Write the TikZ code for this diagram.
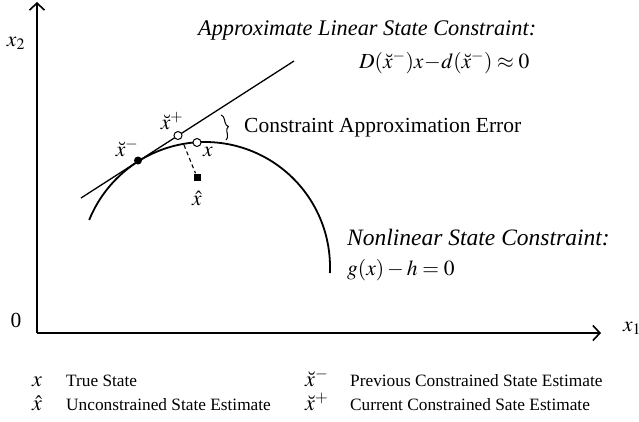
\documentclass[tikz,border=0pt]{standalone}
\usepackage{mathptmx}
\usepackage{fontspec}
\setmainfont{Liberation Serif}
\usetikzlibrary{arrows.meta,decorations.pathreplacing}
\begin{document}
\begin{tikzpicture}[x=1pt,y=-1pt,
  axis/.style={line width=1.8pt,-{Straight Barb[length=7pt,width=15pt,line width=1.6pt]}},
  big/.style={font=\fontsize{21.5}{24}\selectfont, inner sep=0pt},
  head/.style={font=\fontsize{22.3}{26}\selectfont\itshape, inner sep=0pt, anchor=base west},
  leg/.style={font=\fontsize{17.3}{20}\selectfont, inner sep=0pt, anchor=base west},
  legsym/.style={font=\fontsize{22}{24}\selectfont, inner sep=0pt, anchor=base west},
  open/.style={circle,draw,fill=white,line width=1pt,minimum size=8pt,inner sep=0pt},
  solid/.style={circle,fill=black,minimum size=8pt,inner sep=0pt},
  sq/.style={rectangle,fill=black,minimum size=7pt,inner sep=0pt}]
\useasboundingbox (0,0) rectangle (639,421);
% axes
\coordinate (O) at (37,333);
\coordinate (Ytop) at (37,2);
\coordinate (Xend) at (601,333);
\draw[axis] (O) -- (Ytop);
\draw[axis] (O) -- (Xend);
\node[big] (lx2) at (16,43) {$x_2$};
\node[big] (lx1) at (632,328) {$x_1$};
\node[big] (l0) at (16,320) {0};
% nonlinear constraint curve
\draw[line width=1.8pt] plot[domain=157.9:-2.75,samples=120] ({205+125*cos(\x)},{267-125*sin(\x)});
% linear constraint
\coordinate (La) at (81,198);
\coordinate (Lb) at (294,61);
\draw[line width=1.3pt] (La) -- (Lb);
% points
\node[solid] (pm) at (138,160.5) {};
\node[open] (pp) at (178,135.5) {};
\node[open] (px) at (197,142.5) {};
\node[sq] (ph) at (197,177) {};
\coordinate (dstart) at (184,145);
\draw[line width=1.1pt,dash pattern=on 4pt off 3pt] (dstart) -- (ph);
% labels of points
\node[big] (lpp) at (172,121) {$\breve{x}^{+}$};
\node[big] (lpm) at (127,148) {$\breve{x}^{-}$};
\node[big] (lpx) at (208,152) {$x$};
\node[big] (lph) at (197,198) {$\hat{x}$};
% brace
\coordinate (ba) at (221,115);
\coordinate (bb) at (226,140);
\draw[line width=1pt,decorate,decoration={brace,amplitude=5pt}] (ba) -- (bb);
\node[big,anchor=base west] (cae) at (244,132) {Constraint Approximation Error};
% texts
\node[head] (alc) at (198,35) {Approximate Linear State Constraint:};
\node[big,anchor=base west] (eq) at (359,68) {$D(\breve{x}^{-})x\!-\!d(\breve{x}^{-})\approx 0$};
\node[head,font=\fontsize{23.5}{26}\selectfont\itshape] (nlc) at (347,245) {Nonlinear State Constraint:};
\node[big,anchor=base west] (geq) at (347,275) {$g(x)-h=0$};
% legend
\node[legsym] (k1) at (32,386) {$x$};
\node[leg] (t1) at (66,386) {True State};
\node[legsym] (k2) at (32,410) {$\hat{x}$};
\node[leg] (t2) at (66,410) {Unconstrained State Estimate};
\node[legsym] (k3) at (305,386) {$\breve{x}^{-}$};
\node[leg] (t3) at (350,386) {Previous Constrained State Estimate};
\node[legsym] (k4) at (305,410) {$\breve{x}^{+}$};
\node[leg] (t4) at (350,410) {Current Constrained Sate Estimate};
\end{tikzpicture}
\end{document}
